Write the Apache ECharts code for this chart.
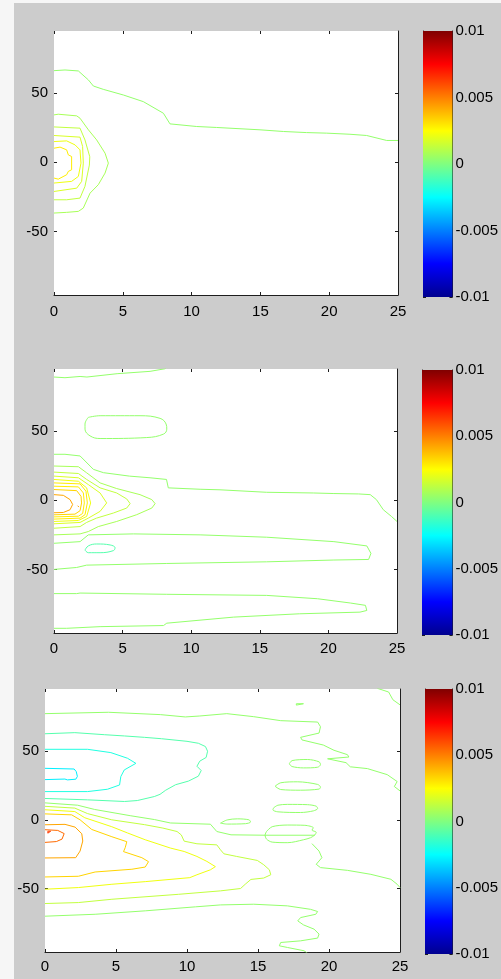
<!DOCTYPE html>
<html>
<head>
<meta charset="utf-8">
<script src="https://cdn.jsdelivr.net/npm/echarts@6/dist/echarts.min.js"></script>
<style>
html,body{margin:0;padding:0;background:#f6f6f6;}
#chart{width:501px;height:979px;}
</style>
</head>
<body>
<div id="chart"></div>
<script>
// ---------- axis / tick data ----------
const xRange = [0, 25];
const xInterval = 5;
const yRange = [-96, 95];
const yTickValues = [-50, 0, 50];
const cbRange = [-0.01, 0.01];
const cbInterval = 0.005;

// ---------- Panel 1 contours [x, y] ----------
const p1Zero = [[0,66.3],[0.8,66.8],[1.77,66.1],[2.5,59.6],[2.86,55.2],[3.58,52.8],[5.04,48.7],[6.49,43.9],[7.95,35.5],[8.43,27.8],[10.37,25.9],[11.82,25.2],[14.97,23.5],[16.67,22.3],[18.36,21.5],[19.82,21.1],[21.51,20.3],[22.72,19.4],[24.18,15.8],[25,15.8]];
const p1Ring1 = [[0,34.3],[0.31,34.8],[1.65,33.6],[1.89,31.9],[2.5,23.5],[3.1,16.2],[3.71,6.6],[3.95,-0.6],[3.71,-7.8],[3.22,-16.2],[2.62,-22.3],[2.13,-33.1],[1.77,-35.5],[0.92,-36.2],[0,-36.7]];
const p1Ring2 = [[0,25.6],[1.89,24.7],[2.25,16.2],[2.6,4],[2.57,-2],[2.25,-17.4],[1.89,-25.9],[0.92,-27.1],[0,-27.1]];
const p1Ring3 = [[0,19.4],[1.89,18.2],[2.08,11.4],[2.13,-0.6],[2.01,-13.8],[1.65,-18.7],[0,-21.1]];
const p1Ring4 = [[0,15.0],[0.92,15.5],[1.53,12.6],[1.89,9.0],[1.96,-0.6],[1.77,-10.2],[1.28,-13.8],[0,-15.0]];
const p1Ring5 = [[0,10.2],[0.44,11.0],[0.92,9.0],[1.04,5.4],[1.28,4.2],[1.28,-5.4],[1.04,-6.6],[0.92,-9.0],[0.31,-12.2],[0,-11.4]];

// ---------- Panel 2 contours ----------
const p2Top = [[0,89.2],[0.8,88.7],[1.9,89.6],[2.4,89.2],[4.6,91.6],[7.0,93.3],[8.1,95.2],[8.3,97]];
const p2Oval = [[2.5,60.0],[3.36,61.2],[6.27,61.2],[7.73,59.3],[8.17,55.2],[8.22,51.5],[7.98,47.9],[6.76,45.4],[3.36,44.7],[2.63,46.6],[2.26,51.5],[2.26,55.2],[2.5,60.0]];
const p2Band = [[0,33.3],[0.8,33.3],[1.9,32.1],[2.87,22.4],[3.6,20.0],[5.5,17.5],[7.0,16.3],[8.2,15.1],[8.33,9.0],[10.65,8.0],[12.1,7.6],[15.5,5.8],[18.9,5.3],[20.4,4.9],[22.2,4.6],[23.05,4.1],[23.5,0.5],[24.0,-6.8],[24.6,-11.7],[25,-15.3]];
const p2Ring1 = [[0,24.8],[1.78,24.3],[2.38,19.9],[3.36,12.6],[4.57,8.5],[6.27,4.1],[7.13,0.5],[7.37,-2.4],[7.13,-5.6],[6.03,-10.4],[4.57,-15.3],[3.23,-19.0],[2.5,-22.6],[1.9,-24.3],[0,-25.0]];
const p2Ring2 = [[0,20.4],[1.78,19.4],[2.38,15.1],[3.36,9.0],[4.57,5.3],[5.3,1.0],[5.55,-2.4],[5.3,-5.6],[4.33,-9.2],[3.1,-12.9],[2.38,-16.0],[1.9,-19.0],[0,-20.2]];
const p2Ring3 = [[0,17.5],[1.78,16.3],[2.5,11.4],[3.36,5.3],[3.84,-1.9],[3.36,-8.0],[2.5,-12.9],[1.9,-16.0],[0,-17.0]];
const p2Ring4 = [[0,15.1],[1.78,13.8],[2.38,9.0],[2.67,-1.9],[2.38,-11.7],[1.78,-14.6],[0,-15.3]];
const p2Ring5 = [[0,12.6],[1.9,11.9],[2.33,6.6],[2.43,-1.9],[2.26,-10.4],[1.9,-12.9],[0,-13.6]];
const p2Ring6 = [[0,10.2],[1.78,9.7],[2.14,5.3],[2.21,-1.9],[2.09,-9.5],[1.78,-11.5],[0,-12.0]];
const p2Ring7 = [[0,7.8],[1.65,7.0],[1.97,2.9],[2.01,-1.9],[1.9,-7.5],[1.53,-10.0],[0,-10.5]];
const p2Ring8 = [[0,4.1],[0.68,3.6],[1.17,0.5],[1.36,-3.0],[1.17,-6.8],[0.68,-8.8],[0,-9.0]];
const p2Dot = [[1.72,-3.9],[1.82,-3.9],[1.82,-4.9],[1.72,-4.9],[1.72,-3.9]];
const p2Neg = [[2.26,-36.0],[2.5,-33.0],[3.11,-31.6],[4.09,-32.3],[4.45,-34.3],[4.33,-36.4],[3.36,-37.9],[2.5,-37.9],[2.26,-36.0]];
const p2Tongue1 = [[0,-31.1],[1.9,-29.9],[2.5,-25.0],[5.79,-24.3],[10.65,-25.0],[15.5,-26.7],[20.4,-29.9],[22.8,-33.0],[23.1,-38.4],[22.93,-42.8],[20.4,-43.2],[15.5,-44.5],[8.22,-45.7],[2.38,-46.9],[1.65,-48.6],[0,-50.0]];
const p2Tongue2 = [[0,-67.5],[1.65,-67.5],[1.9,-67.1],[8.22,-68.0],[15.5,-68.8],[19.2,-71.2],[21.6,-74.3],[22.7,-76.0],[22.8,-79.7],[22.3,-80.9],[17.9,-82.1],[13.1,-84.5],[8.22,-88.9],[7.98,-90.6],[3.36,-91.4],[0.92,-92.6],[0,-92.6]];

// ---------- Panel 3 contours ----------
const p3Top = [[0,77.1],[4.47,78.1],[8.12,76.4],[9.88,74.7],[10.9,75.4],[12.8,77.1],[14.7,74.9],[16.6,72.0],[19.2,71.0],[19.4,67.6],[19.3,63.0],[18.0,59.9],[18.1,58.0],[19.6,54.3],[20.35,50.5],[21.3,47.3],[21.4,45.6],[19.9,44.3],[19.9,43.3],[21.2,41.5],[21.5,38.5],[22.7,37.2],[24.1,32.8],[24.8,27.8],[24.6,24.2],[25,21]];
const p3Corner = [[23.4,95.5],[24.2,92.8],[24.5,87.2],[25,83.5]];
const p3Speck = [[17.7,84.3],[18.2,84.3],[18.2,83.3],[17.7,83.3],[17.7,84.3]];
const p3NegA = [[0,62.5],[2.1,63.3],[4.2,61.8],[5.6,60.9],[7.0,59.9],[8.2,58.9],[10.0,57.0],[10.8,55.6],[11.3,53.2],[11.45,49.8],[11.35,45.3],[10.9,42.6],[10.7,38.9],[11.0,35.8],[10.8,31.7],[10.1,28.1],[9.2,25.5],[8.5,21.5],[8.1,18.5],[7.7,16.9],[6.5,14.0],[5.6,13.3],[3.0,14.5],[0,15.5]];
const p3NegB = [[0,51.2],[3.0,51.2],[4.64,48.8],[5.81,44.7],[6.4,41.0],[5.58,36.2],[5.34,31.4],[5.25,25.3],[4.4,22.2],[3.0,20.5],[0,20.5]];
const p3NegC = [[0,37.4],[2.05,36.9],[2.2,35.0],[2.28,31.5],[2.17,29.5],[1.58,29.0],[1.4,29.6],[0,29.2]];
const p3Zero1 = [[0,12.3],[2.3,10.6],[3.5,7.5],[6.0,3.0],[7.7,0.2],[8.83,-2.3],[11.65,-3.2],[12.1,-8.5],[13.1,-10.9],[15.5,-11.2],[19.0,-11.2]];
const p3Pos1 = [[0,9.8],[2.1,8.5],[3.0,4.5],[4.7,0.0],[7.0,-3.5],[8.3,-6.0],[9.3,-8.5],[9.6,-11.0],[9.8,-15.5],[10.7,-17.4],[12.1,-18.2],[12.36,-21.8],[12.6,-24.7],[13.5,-26.6],[14.95,-29.5],[15.4,-32.6],[15.8,-36.3],[15.9,-39.9],[15.4,-42.3],[14.5,-43.3],[14.1,-46.8],[13.77,-49.9],[12.36,-51.6],[9.41,-54.1],[4.71,-57.7],[2.35,-60.1],[0,-60.8]];
const p3Pos2 = [[0,7.3],[2.1,6.0],[2.8,1.5],[4.7,-5.0],[5.8,-9.5],[7.06,-14.5],[8.83,-20.5],[9.8,-23.0],[10.7,-26.6],[11.4,-30.2],[12.0,-34.0],[11.65,-36.3],[10.7,-39.9],[10.2,-42.0],[7.06,-44.9],[4.71,-46.8],[2.35,-49.2],[0,-50.4]];
const p3Pos3 = [[0,4.3],[1.88,3.6],[2.47,0.0],[3.29,-7.0],[4.71,-12.3],[5.76,-15.9],[5.65,-20.2],[5.53,-23.1],[6.82,-27.5],[7.29,-30.4],[7.06,-34.3],[6.12,-35.9],[3.53,-37.9],[2.35,-41.0],[0,-41.5]];
const p3Pos4 = [[0,-3.6],[1.41,-3.3],[2.12,-5.3],[2.59,-10.1],[2.66,-15.4],[2.47,-22.7],[2.16,-27.5],[0,-27.7]];
const p3Pos5 = [[0,-7.2],[0.9,-7.7],[1.35,-10.0],[1.2,-14.0],[0.8,-15.8],[0,-16.4]];
const p3Pos6 = [[0.2,-8.3],[0.4,-8.3],[0.45,-9.0],[0.4,-9.7],[0.2,-9.7],[0.15,-9.0],[0.2,-8.3]];
const p3LoopA = [[15.6,-8.5],[16.0,-5.0],[17.1,-3.8],[18.3,-4.0],[18.9,-5.8],[18.8,-7.5],[19.1,-9.0],[19.0,-11.0],[18.7,-13.0],[18.2,-14.5],[17.1,-16.6],[16.0,-16.2],[15.6,-14.0],[15.5,-11.0],[15.6,-8.5]];
const p3LoopB = [[12.36,-2.4],[12.83,-0.1],[13.54,0.7],[14.36,0],[14.48,-1.6],[14.12,-2.8],[12.83,-3.1],[12.36,-2.4]];
const p3LoopC = [[16.1,8.7],[16.4,10.6],[17.07,11.2],[18.48,11.0],[19.1,9.9],[19.2,8.2],[18.9,6.5],[18.0,5.3],[16.4,5.8],[16.05,7.2],[16.1,8.7]];
const p3LoopD = [[16.2,24.4],[16.6,26.9],[17.8,27.6],[19.2,25.7],[19.4,23.7],[19.3,22.3],[18.0,21.5],[16.6,22.0],[16.2,24.4]];
const p3LoopE = [[17.2,40.6],[17.4,43.0],[18.5,43.8],[19.3,42.1],[19.4,40.1],[19.2,38.2],[18.2,37.7],[17.4,38.7],[17.2,40.6]];
const p3Zero2 = [[18.8,-17.3],[19.3,-22.7],[19.5,-27.5],[19.1,-32.3],[19.4,-34.7],[21.3,-36.7],[22.95,-39.6],[24.36,-43.2],[24.8,-46.8],[25,-49.2]];
const p3Zero3 = [[0,-70],[3.53,-68.6],[7.06,-66.1],[10.6,-63.2],[12.36,-61.8],[14.7,-61.3],[17.07,-62.5],[18.7,-65.0],[19.2,-66.6],[19.07,-68.6],[18.0,-71.0],[17.8,-73.4],[18.2,-76.3],[18.95,-79.4],[19.3,-83.0],[19.2,-85.9],[18.0,-87.9],[16.6,-89.1],[16.5,-91.5],[17.07,-92.7],[18.24,-95.1],[18.5,-97]];

// ---------- colours (jet colormap levels) ----------
const cZero = '#94ff6c';
const cNeg1 = '#55ffad';
const cNeg2 = '#20ffe2';
const cNeg3 = '#00f0ff';
const cPos1 = '#a8ff58';
const cPos2 = '#c2ff3f';
const cPos3 = '#daff26';
const cPos4 = '#f0ff0f';
const cPos5 = '#ffee00';
const cPos6 = '#ffd400';
const cPos7 = '#ffa600';
const cPos8 = '#ff6a00';
const cPos9 = '#ff3a00';

const jetStops = [
  {offset:0, color:'#800000'},
  {offset:0.125, color:'#ff0000'},
  {offset:0.375, color:'#ffff00'},
  {offset:0.5, color:'#80ff80'},
  {offset:0.625, color:'#00ffff'},
  {offset:0.875, color:'#0000ff'},
  {offset:1, color:'#00008f'}
];

const FONT = 'Liberation Sans, Arial, sans-serif';
const AX = '#1e1e1e';

// layout of the three panels
const panels = [
  {left:54, top:31, width:344, height:264, xMargin:9, cb:{left:423, top:31, width:32, height:266}},
  {left:54, top:369, width:343, height:264, xMargin:8, cb:{left:422, top:370, width:33, height:265}},
  {left:45, top:689, width:355, height:263, xMargin:7, cb:{left:425, top:689, width:34, height:265}}
];

const grids = [], xAxes = [], yAxes = [], series = [];

panels.forEach((p, i) => {
  grids.push({left:p.left, top:p.top, width:p.width, height:p.height, show:true, backgroundColor:'#ffffff', borderWidth:0, containLabel:false});
  const baseX = {type:'value', gridIndex:i, min:xRange[0], max:xRange[1], interval:xInterval, splitLine:{show:false}};
  xAxes.push(Object.assign({}, baseX, {position:'bottom',
    axisLine:{show:true, onZero:false, lineStyle:{color:AX, width:1}},
    axisTick:{show:true, inside:true, length:3, lineStyle:{color:AX}},
    axisLabel:{show:true, margin:p.xMargin, color:'#000', fontSize:15, fontFamily:FONT}}));
  xAxes.push(Object.assign({}, baseX, {position:'top',
    axisLine:{show:false, onZero:false},
    axisTick:{show:true, inside:true, length:3, lineStyle:{color:AX}},
    axisLabel:{show:false}}));
  const baseY = {type:'value', gridIndex:i, min:yRange[0], max:yRange[1], splitLine:{show:false}};
  yAxes.push(Object.assign({}, baseY, {position:'left',
    axisLine:{show:false, onZero:false},
    axisTick:{show:true, inside:true, length:3, lineStyle:{color:AX}, customValues:yTickValues},
    axisLabel:{show:true, margin:6, color:'#000', fontSize:15, fontFamily:FONT, customValues:yTickValues}}));
  yAxes.push(Object.assign({}, baseY, {position:'right',
    axisLine:{show:true, onZero:false, lineStyle:{color:AX, width:1}},
    axisTick:{show:true, inside:true, length:3, lineStyle:{color:AX}, customValues:yTickValues},
    axisLabel:{show:false, customValues:yTickValues}}));
});

// colorbar grids
panels.forEach((p, i) => {
  const g = 3 + i;
  grids.push({left:p.cb.left, top:p.cb.top, width:p.cb.width, height:p.cb.height, show:false, containLabel:false});
  xAxes.push({type:'value', gridIndex:g, min:0, max:1, show:false});
  const baseC = {type:'value', gridIndex:g, min:cbRange[0], max:cbRange[1], interval:cbInterval, splitLine:{show:false}};
  yAxes.push(Object.assign({}, baseC, {position:'left',
    axisLine:{show:true, onZero:false, lineStyle:{color:AX, width:1}},
    axisTick:{show:true, inside:true, length:3, lineStyle:{color:AX}},
    axisLabel:{show:false}}));
  yAxes.push(Object.assign({}, baseC, {position:'right',
    axisLine:{show:true, onZero:false, lineStyle:{color:AX, width:1}},
    axisTick:{show:true, inside:true, length:3, lineStyle:{color:AX}},
    axisLabel:{show:true, margin:3, color:'#000', fontSize:15, fontFamily:FONT}}));
  series.push({
    type:'custom', xAxisIndex:6 + i, yAxisIndex:6 + 2*i, silent:true, animation:false, z:1,
    data:[[0, cbRange[1]]],
    renderItem: function (params, api) {
      const a = api.coord([0, cbRange[1]]);
      const b = api.coord([1, cbRange[0]]);
      return {type:'rect', shape:{x:a[0], y:a[1], width:b[0]-a[0], height:b[1]-a[1]},
        style:{fill:new echarts.graphic.LinearGradient(0,0,0,1,jetStops)}};
    }
  });
});

function addLine(panel, data, color, smooth) {
  series.push({type:'line', data:data, xAxisIndex:panel*2, yAxisIndex:panel*2,
    symbol:'none', showSymbol:false, smooth:smooth || false, silent:true, animation:false, clip:true, z:3,
    lineStyle:{color:color, width:1}});
}

// panel 1
addLine(0, p1Zero, cZero);
addLine(0, p1Ring1, cPos1);
addLine(0, p1Ring2, cPos2);
addLine(0, p1Ring3, cPos3);
addLine(0, p1Ring4, cPos4);
addLine(0, p1Ring5, cPos5);
// panel 2
addLine(1, p2Top, cZero);
addLine(1, p2Oval, cZero, 0.4);
addLine(1, p2Band, cZero);
addLine(1, p2Ring1, cPos1);
addLine(1, p2Ring2, cPos2);
addLine(1, p2Ring3, cPos3);
addLine(1, p2Ring4, cPos4);
addLine(1, p2Ring5, cPos5);
addLine(1, p2Ring6, cPos5);
addLine(1, p2Ring7, cPos6);
addLine(1, p2Ring8, cPos7);
addLine(1, p2Dot, cPos7);
addLine(1, p2Neg, cNeg1, 0.4);
addLine(1, p2Tongue1, cZero);
addLine(1, p2Tongue2, cZero);
// panel 3
addLine(2, p3Top, cZero);
addLine(2, p3Corner, cZero);
addLine(2, p3Speck, cZero);
addLine(2, p3NegA, cNeg1);
addLine(2, p3NegB, cNeg2);
addLine(2, p3NegC, cNeg3);
addLine(2, p3Zero1, cZero);
addLine(2, p3Pos1, cPos2);
addLine(2, p3Pos2, cPos4);
addLine(2, p3Pos3, cPos6);
addLine(2, p3Pos4, cPos7);
addLine(2, p3Pos5, cPos8);
addLine(2, p3Pos6, cPos9);
addLine(2, p3LoopA, cZero, 0.3);
addLine(2, p3LoopB, cZero, 0.3);
addLine(2, p3LoopC, cZero, 0.3);
addLine(2, p3LoopD, cZero, 0.3);
addLine(2, p3LoopE, cZero, 0.3);
addLine(2, p3Zero2, cZero);
addLine(2, p3Zero3, cZero);

const chart = echarts.init(document.getElementById('chart'), null, {renderer:'canvas'});
chart.setOption({
  backgroundColor:'#f6f6f6',
  animation:false,
  graphic:[{type:'rect', z:-10, silent:true, shape:{x:14, y:3, width:487, height:976}, style:{fill:'#cccccc'}}],
  grid:grids,
  xAxis:xAxes,
  yAxis:yAxes,
  series:series
});
</script>
</body>
</html>
